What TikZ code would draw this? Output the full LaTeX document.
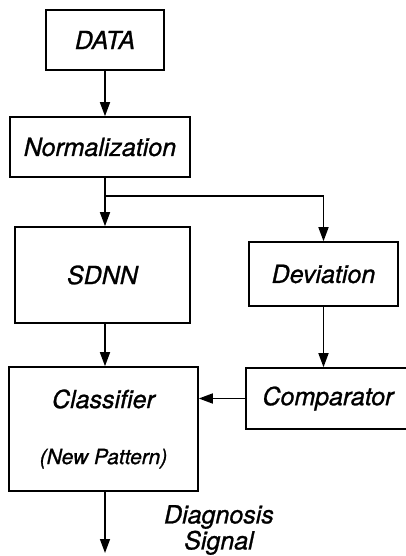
\documentclass[tikz,border=0pt]{standalone}
\usepackage{fontspec}
\setmainfont{TeX Gyre Heros}[ItalicFeatures={FakeBold=1}]
\usetikzlibrary{positioning}
\usetikzlibrary{arrows.meta}

\begin{document}
\begin{tikzpicture}[x=1pt, y=-1pt,
				unit/.style={draw, rectangle, line width=1.6pt, inner sep=0pt, font=\fontsize{25}{30}\selectfont\itshape},
				every text node part/.style={align=center}]
				\useasboundingbox (0,0) rectangle (406,556);
				\node[unit, minimum width=118pt, minimum height=60pt](data) at (105, 40) {DATA};
				\node[unit, minimum width=180pt, minimum height=60pt](norm) at (100, 147) {Normalization};
				\node[unit, minimum width=175pt, minimum height=96pt](sdnn) at (102.5, 275) {SDNN};
				\node[unit, minimum width=149pt, minimum height=64pt](dev) at (323.5, 274) {Deviation};
				\node[unit, minimum width=189pt, minimum height=124pt](class) at (103.5, 429) {Classifier\\[26pt]{\fontsize{21}{25}\selectfont (New Pattern)}};
				\node[unit, minimum width=164pt, minimum height=61pt](comp) at (328, 398.5) {Comparator};
				\node[font=\fontsize{25}{26}\selectfont\itshape](diag) at (219, 530) {Diagnosis\\Signal};
				\coordinate (split) at (105, 196);
				\coordinate (out) at (105, 553);
				
				\draw[->, >={Triangle[length=14pt, width=10pt]}, line width=1.5pt] (data.south) -- (data.south |- norm.north);
				\draw[line width=1.5pt] (norm.south -| split) -- (split);
				\draw[->, >={Triangle[length=14pt, width=10pt]}, line width=1.5pt] (split) -- (split |- sdnn.north);
				\draw[->, >={Triangle[length=14pt, width=10pt]}, line width=1.5pt] (split) -| (dev.north);
				\draw[->, >={Triangle[length=14pt, width=10pt]}, line width=1.5pt] (sdnn.south -| split) -- (split |- class.north);
				\draw[->, >={Triangle[length=14pt, width=10pt]}, line width=1.5pt] (dev.south) -- (dev.south |- comp.north);
				\draw[->, >={Triangle[length=14pt, width=10pt]}, line width=1.5pt] (comp.west) -- (comp.west -| class.east);
				\draw[->, >={Triangle[length=14pt, width=10pt]}, line width=1.5pt] (class.south -| split) -- (out);
			\end{tikzpicture}
\end{document}
